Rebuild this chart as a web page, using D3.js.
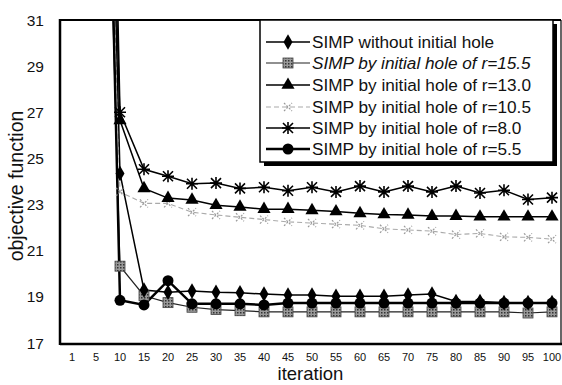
<!DOCTYPE html>
<html><head><meta charset="utf-8">
<script src="https://cdn.jsdelivr.net/npm/d3@7"></script>
<style>
html,body{margin:0;padding:0;background:#fff;}
svg{display:block;font-family:Arial,"Liberation Sans",sans-serif;}
</style></head>
<body>
<svg id="chart" width="562" height="385"></svg>
<script>
const iterations = ["1","5","10","15","20","25","30","35","40","45","50","55","60","65","70","75","80","85","90","95","100"];
const yTicks = [17,19,21,23,25,27,29,31];

const noHole = [null,64,24.35,19.3,19.2,19.25,19.2,19.18,19.12,19.08,19.08,19.03,19.03,19.03,19.08,19.12,18.8,18.8,18.75,18.75,18.75];
const r155   = [null,57,20.33,19.05,18.75,18.55,18.45,18.4,18.35,18.35,18.35,18.35,18.35,18.35,18.35,18.35,18.35,18.35,18.35,18.3,18.35];
const r130   = [null,61,26.65,23.7,23.28,23.2,22.97,22.9,22.8,22.8,22.75,22.7,22.62,22.57,22.55,22.5,22.5,22.47,22.47,22.47,22.47];
const r105   = [null,59,23.55,23.05,23.05,22.67,22.55,22.45,22.35,22.25,22.2,22.15,22.1,21.95,21.9,21.85,21.7,21.75,21.6,21.58,21.5];
const r80    = [null,75,27.0,24.53,24.23,23.9,23.93,23.7,23.75,23.6,23.75,23.55,23.8,23.55,23.8,23.55,23.8,23.5,23.62,23.22,23.3];
const r55    = [null,64,18.85,18.65,19.7,18.7,18.7,18.7,18.65,18.73,18.73,18.73,18.73,18.73,18.73,18.73,18.73,18.73,18.73,18.73,18.73];

const seriesNames = ["SIMP without initial hole","SIMP by initial hole of r=15.5","SIMP by initial hole of r=13.0","SIMP by initial hole of r=10.5","SIMP by initial hole of r=8.0","SIMP by initial hole of r=5.5"];

const svg = d3.select("#chart");
const L = 60, R = 561, T = 20, B = 344;

const x = d3.scalePoint().domain(iterations).range([L, R + 3]).padding(0.5);
const y = d3.scaleLinear().domain([17, 31]).range([B - 1, T]);

const defs = svg.append("defs");
const pat = defs.append("pattern").attr("id","hatch").attr("patternUnits","userSpaceOnUse").attr("width",3).attr("height",3);
pat.append("rect").attr("width",3).attr("height",3).attr("fill","#999");
pat.append("rect").attr("width",1.5).attr("height",1.5).attr("fill","#333");
defs.append("clipPath").attr("id","clip").append("rect").attr("x",L).attr("y",T).attr("width",R-L).attr("height",B-T);

svg.append("g").selectAll("text").data(yTicks).join("text")
  .attr("x", 44).attr("y", d => y(d) + 5.5).attr("text-anchor","end")
  .attr("font-size", 15.5).attr("fill","#111").text(d => d);

svg.append("g").selectAll("text").data(iterations).join("text")
  .attr("x", d => x(d)).attr("y", 361).attr("text-anchor","middle")
  .attr("font-size", 11).attr("fill","#111").text(d => d);

svg.append("text").attr("x", (L+R)/2).attr("y", 380).attr("text-anchor","middle")
  .attr("font-size", 18.5).attr("fill","#111").text("iteration");
svg.append("text").attr("transform","translate(23,186) rotate(-90)").attr("text-anchor","middle")
  .attr("font-size", 19.5).attr("fill","#111").text("objective function");

svg.append("line").attr("x1",L).attr("x2",R).attr("y1",T).attr("y2",T).attr("stroke","#000").attr("stroke-width",2);
svg.append("line").attr("x1",R).attr("x2",R).attr("y1",T).attr("y2",B).attr("stroke","#000").attr("stroke-width",1.2);

const plot = svg.append("g").attr("clip-path","url(#clip)");

const line = d3.line().defined(d => d.v != null).x(d => x(d.k)).y(d => y(d.v));

function drawSeries(vals, lineAttrs, marker){
  const data = iterations.map((k,i) => ({k, v: vals[i]}));
  const p = plot.append("path").datum(data).attr("fill","none").attr("d", line);
  Object.entries(lineAttrs).forEach(([a,v]) => p.attr(a,v));
  const pts = data.filter(d => d.v != null && d.v <= 31);
  const g = svg.append("g");
  pts.forEach(d => marker(g, x(d.k), y(d.v)));
}

const mk = {
  diamond: (g,cx,cy) => g.append("path").attr("d", d3.symbol(d3.symbolDiamond, 70)()).attr("transform",`translate(${cx},${cy})`).attr("fill","#000"),
  square: (g,cx,cy) => g.append("rect").attr("x",cx-5).attr("y",cy-5).attr("width",10).attr("height",10).attr("fill","url(#hatch)").attr("stroke","#444").attr("stroke-width",0.8),
  triangle: (g,cx,cy) => g.append("path").attr("d", d3.symbol(d3.symbolTriangle, 75)()).attr("transform",`translate(${cx},${cy})`).attr("fill","#000"),
  cross: (g,cx,cy) => g.append("path").attr("d", `M${cx-4},${cy-4}L${cx+4},${cy+4}M${cx-4},${cy+4}L${cx+4},${cy-4}`).attr("stroke","#999").attr("stroke-width",1.2).attr("stroke-dasharray","2,1.5"),
  star: (g,cx,cy) => g.append("path").attr("d", `M${cx-5},${cy-5}L${cx+5},${cy+5}M${cx-5},${cy+5}L${cx+5},${cy-5}M${cx},${cy-6}L${cx},${cy+6}M${cx-6},${cy}L${cx+6},${cy}`).attr("stroke","#000").attr("stroke-width",1.6),
  circle: (g,cx,cy) => g.append("circle").attr("cx",cx).attr("cy",cy).attr("r",5.5).attr("fill","#000")
};

const styles = [
  {vals: noHole, attrs: {"stroke":"#000","stroke-width":1.5}, m: mk.diamond},
  {vals: r155, attrs: {"stroke":"#222","stroke-width":1.2}, m: mk.square},
  {vals: r130, attrs: {"stroke":"#000","stroke-width":1.5}, m: mk.triangle},
  {vals: r105, attrs: {"stroke":"#aaa","stroke-width":1.1,"stroke-dasharray":"5,3"}, m: mk.cross},
  {vals: r80, attrs: {"stroke":"#000","stroke-width":1.5}, m: mk.star},
  {vals: r55, attrs: {"stroke":"#000","stroke-width":2.5}, m: mk.circle}
];
const drawOrder = [3,4,2,1,0,5];
drawOrder.forEach(i => drawSeries(styles[i].vals, styles[i].attrs, styles[i].m));

svg.append("line").attr("x1",L).attr("x2",L).attr("y1",T-1).attr("y2",B+1).attr("stroke","#000").attr("stroke-width",2.5);
svg.append("line").attr("x1",L).attr("x2",R+1).attr("y1",B).attr("y2",B).attr("stroke","#000").attr("stroke-width",2.5);

const lg = svg.append("g");
lg.append("rect").attr("x",264).attr("y",24).attr("width",293).attr("height",142).attr("fill","#000");
lg.append("rect").attr("x",260).attr("y",20).attr("width",293).attr("height",142).attr("fill","#fff").attr("stroke","#000").attr("stroke-width",1.5);
const rowsY = [42,63,85,107,128,149];
styles.forEach((s,i) => {
  const yy = rowsY[i];
  const l = lg.append("line").attr("x1",266).attr("x2",310).attr("y1",yy).attr("y2",yy);
  Object.entries(s.attrs).forEach(([a,v]) => l.attr(a,v));
  s.m(lg, 288, yy);
  lg.append("text").attr("x",312).attr("y",yy+6).attr("font-size",17.2).attr("fill","#111")
    .attr("font-style", i === 1 ? "italic" : "normal").text(seriesNames[i]);
});
</script>
</body></html>
